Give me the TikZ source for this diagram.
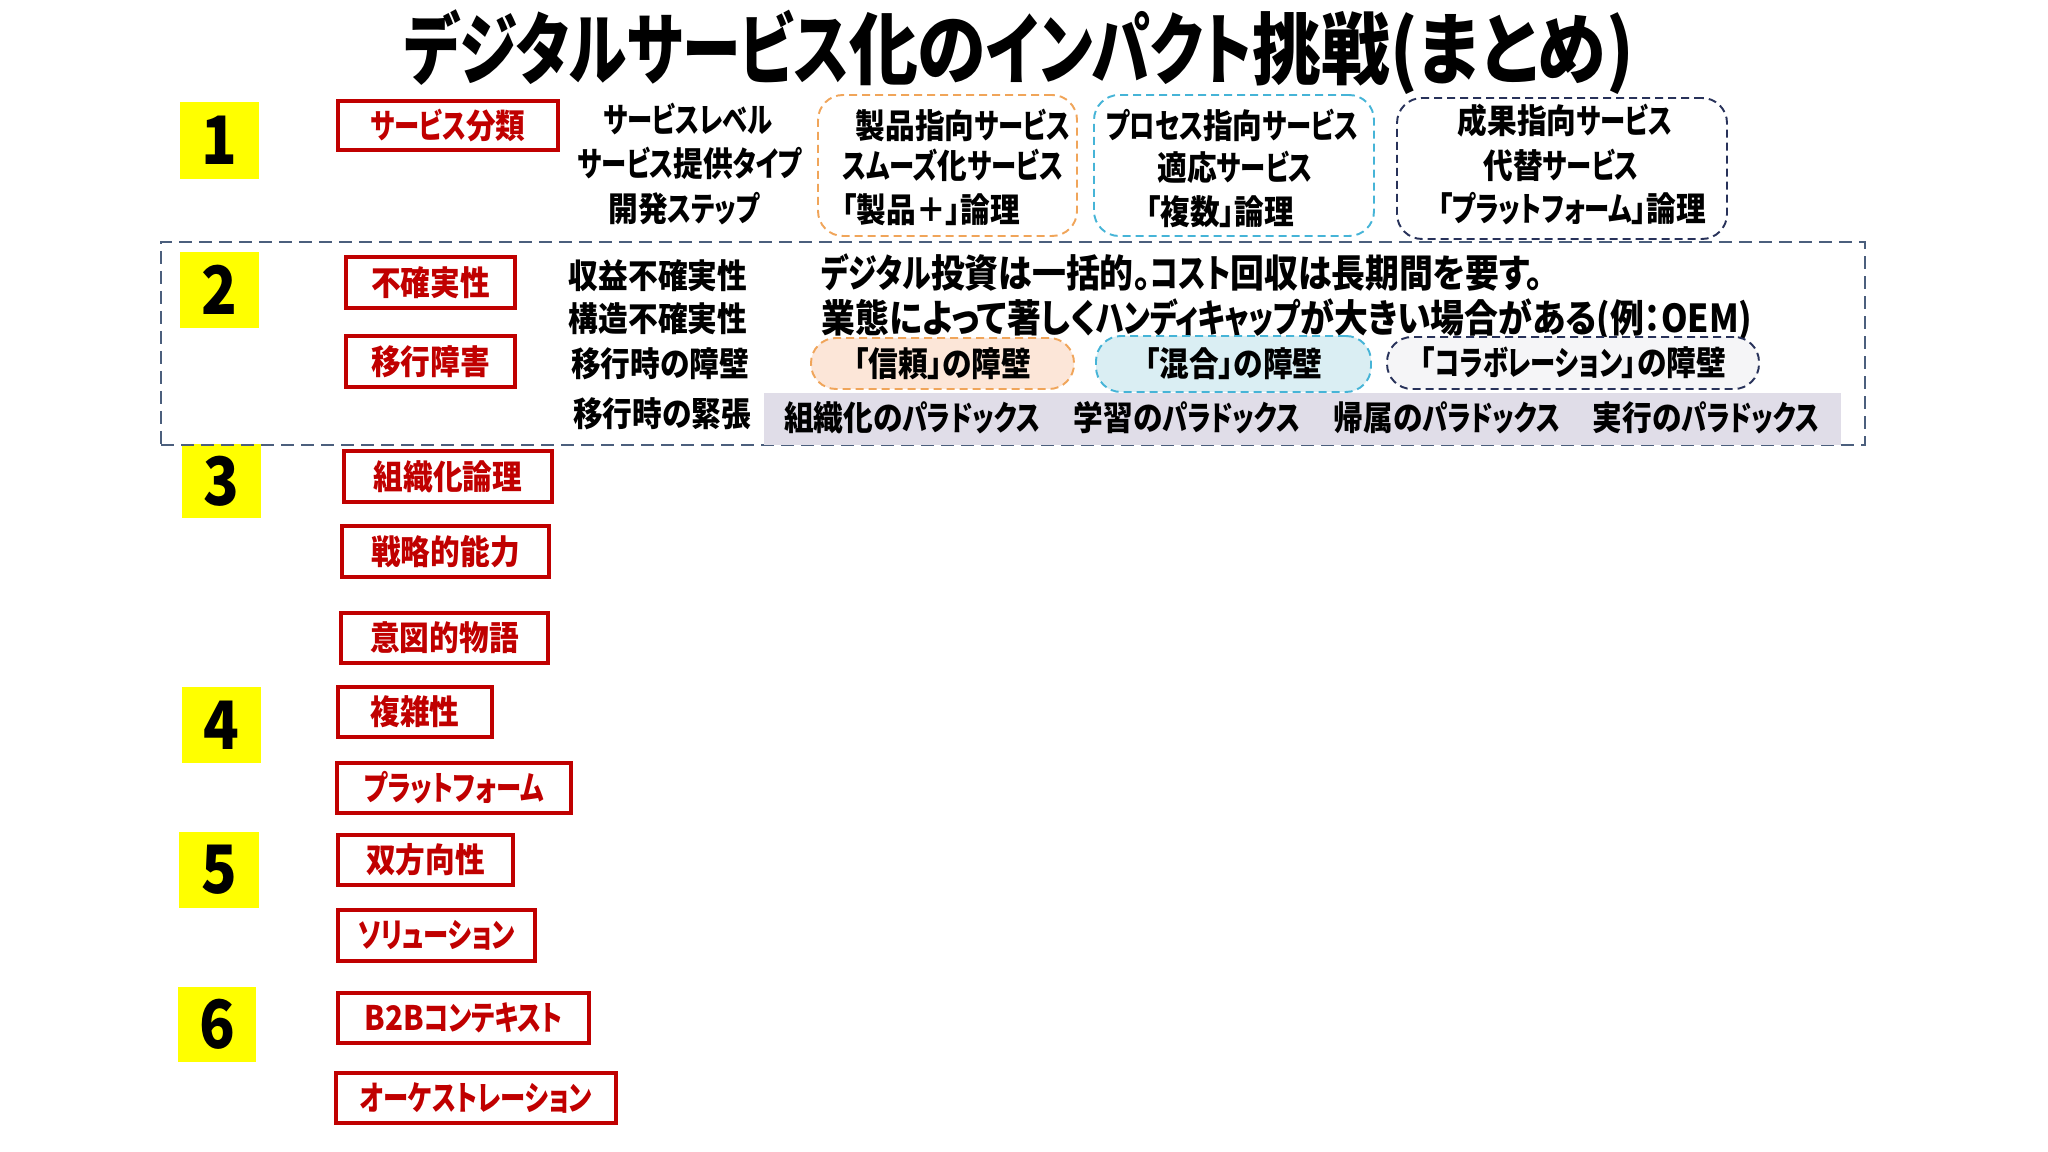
\documentclass[tikz,border=0pt]{standalone}
\usepackage{fontspec}
\setmainfont{Noto Sans CJK JP}[FakeStretch=0.88, RawFeature={+palt}]
\newfontfamily\basefam{Noto Sans CJK JP}[FakeStretch=0.88, RawFeature={+palt}]
\newfontfamily\katfam{Noto Sans CJK JP}[FakeStretch=0.75, RawFeature={+palt}]
\usetikzlibrary{positioning}

% narrower katakana
\XeTeXinterchartokenstate=1
\chardef\katclass=7
\count255="30A1
\loop\ifnum\count255<"30FD
  \XeTeXcharclass\count255=\katclass
  \advance\count255 by 1
\repeat
\XeTeXinterchartoks 0 \katclass={\katfam}
\XeTeXinterchartoks 1 \katclass={\katfam}
\XeTeXinterchartoks 2 \katclass={\katfam}
\XeTeXinterchartoks 3 \katclass={\katfam}
\XeTeXinterchartoks 4095 \katclass={\katfam}
\XeTeXinterchartoks \katclass 0={\basefam}
\XeTeXinterchartoks \katclass 1={\basefam}
\XeTeXinterchartoks \katclass 2={\basefam}
\XeTeXinterchartoks \katclass 3={\basefam}
\XeTeXinterchartoks \katclass 4095={\basefam}

\definecolor{numyellow}{RGB}{255,255,0}
\definecolor{keyred}{RGB}{192,0,0}
\definecolor{grporange}{RGB}{240,165,90}
\definecolor{grpcyan}{RGB}{70,180,215}
\definecolor{grpnavy}{RGB}{40,50,90}
\definecolor{frameslate}{RGB}{75,95,125}
\definecolor{fillpeach}{RGB}{252,230,216}
\definecolor{fillcyan}{RGB}{218,238,243}
\definecolor{fillgrey}{RGB}{245,245,247}
\definecolor{filllav}{RGB}{224,221,232}

\begin{document}
\begin{tikzpicture}[x=0.1mm, y=-0.1mm,
    every node/.append style={align=center, inner sep=0pt,
      font=\bfseries\fontsize{9.6}{11}\selectfont},
    num/.style={fill=numyellow, font=\bfseries\fontsize{19}{22}\selectfont},
    keybox/.style={draw=keyred, line width=0.9pt, text=keyred},
    grp/.style={draw, dash pattern=on 0.8mm off 0.5mm, line width=0.55pt,
      rounded corners=2.5mm},
    barrier/.style={grp, minimum height=5.1mm},
    big/.style={font=\bfseries\fontsize{10.95}{13}\selectfont}]
   \useasboundingbox (0,0) rectangle (2048,1152);

   % title
   \node (title) at (1019,52) {\fontsize{22.3}{26}\selectfont デジタルサービス化のインパクト挑戦(まとめ)};

   % numbered markers
   \node [num, minimum width=7.9mm, minimum height=7.7mm] (n1) at (219.5,140.5) {1};
   \node [num, minimum width=7.9mm, minimum height=7.6mm] (n2) at (219.5,290) {2};
   \node [num, minimum width=7.9mm, minimum height=7.4mm] (n3) at (221.5,481) {3};
   \node [num, minimum width=7.9mm, minimum height=7.6mm] (n4) at (221.5,725) {4};
   \node [num, minimum width=8.0mm, minimum height=7.6mm] (n5) at (219,870) {5};
   \node [num, minimum width=7.8mm, minimum height=7.5mm] (n6) at (217,1024.5) {6};

   % key words
   \node [keybox, minimum width=22mm, minimum height=4.9mm] (cls) at (448,125.5) {サービス分類};
   \node [keybox, minimum width=16.9mm, minimum height=5.1mm] (unc) at (430.5,282.5) {不確実性};
   \node [keybox, minimum width=16.9mm, minimum height=5.1mm] (mig) at (430.5,361.5) {移行障害};
   \node [keybox, minimum width=20.8mm, minimum height=5.1mm] (org) at (448,476.5) {組織化論理};
   \node [keybox, minimum width=20.7mm, minimum height=5.1mm] (cap) at (445.5,551.5) {戦略的能力};
   \node [keybox, minimum width=20.7mm, minimum height=5.0mm] (nar) at (444.5,638) {意図的物語};
   \node [keybox, minimum width=15.4mm, minimum height=5.0mm] (cpx) at (415,712) {複雑性};
   \node [keybox, minimum width=23.4mm, minimum height=5.0mm] (plt) at (454,788) {プラットフォーム};
   \node [keybox, minimum width=17.5mm, minimum height=5.0mm] (bid) at (425.5,860) {双方向性};
   \node [keybox, minimum width=19.7mm, minimum height=5.1mm] (sol) at (436.5,935.5) {ソリューション};
   \node [keybox, minimum width=25.1mm, minimum height=5.0mm] (b2b) at (463.5,1018) {B2Bコンテキスト};
   \node [keybox, minimum width=28.0mm, minimum height=5.0mm] (orc) at (476,1098) {オーケストレーション};

   % row 1
   \node (lv)  at (688,119) {サービスレベル};
   \node (typ) at (690,163) {サービス提供タイプ};
   \node (stp) at (684,209) {開発ステップ};

   \node [grp, draw=grporange, minimum width=25.9mm, minimum height=14.1mm] (gprod) at (947.5,165.5) {};
   \node (prod1) at (963,125) {製品指向サービス};
   \node (prod2) at (953,165) {スムーズ化サービス};
   \node (prod3) at (931,210) {「製品＋」論理};

   \node [grp, draw=grpcyan, minimum width=28.0mm, minimum height=14.1mm] (gproc) at (1234,165.5) {};
   \node (proc1) at (1232,125) {プロセス指向サービス};
   \node (proc2) at (1235,167) {適応サービス};
   \node (proc3) at (1220,212) {「複数」論理};

   \node [grp, draw=grpnavy, minimum width=33.0mm, minimum height=14.1mm] (gres) at (1562,168.5) {};
   \node (res1) at (1565,121) {成果指向サービス};
   \node (res2) at (1561,165) {代替サービス};
   \node (res3) at (1572,209) {「プラットフォーム」論理};

   % row 2
   \node [draw=frameslate, dash pattern=on 1.3mm off 0.7mm, line width=0.6pt,
     minimum width=170.4mm, minimum height=20.3mm] (frame) at (1013,343.5) {};
   \node [fill=filllav, minimum width=107.7mm, minimum height=5.2mm] (band) at (1302.5,419) {};

   \node (rev) at (658,276) {収益不確実性};
   \node (str) at (658,319) {構造不確実性};
   \node (bar) at (660,364) {移行時の障壁};
   \node (ten) at (662,414) {移行時の緊張};

   \node [big, anchor=west] (inv) at (821,273) {デジタル投資は一括的。コスト回収は長期間を要す。};
   \node [big, anchor=west] (oem) at (821,320) {業態によって著しくハンディキャップが大きい場合がある(例：OEM)};

   \node [barrier, draw=grporange, fill=fillpeach, minimum width=26.3mm] (trust) at (942.5,363.5) {「信頼」の障壁};
   \node [barrier, draw=grpcyan, fill=fillcyan, minimum width=27.5mm, minimum height=5.6mm] (mix) at (1233.5,364) {「混合」の障壁};
   \node [barrier, draw=grpnavy, fill=fillgrey, minimum width=37.2mm, minimum height=5.2mm] (col) at (1573,363) {「コラボレーション」の障壁};

   \node (px1) at (912,418) {組織化のパラドックス};
   \node (px2) at (1187,418) {学習のパラドックス};
   \node (px3) at (1447,418) {帰属のパラドックス};
   \node (px4) at (1706,418) {実行のパラドックス};
\end{tikzpicture}
\end{document}
